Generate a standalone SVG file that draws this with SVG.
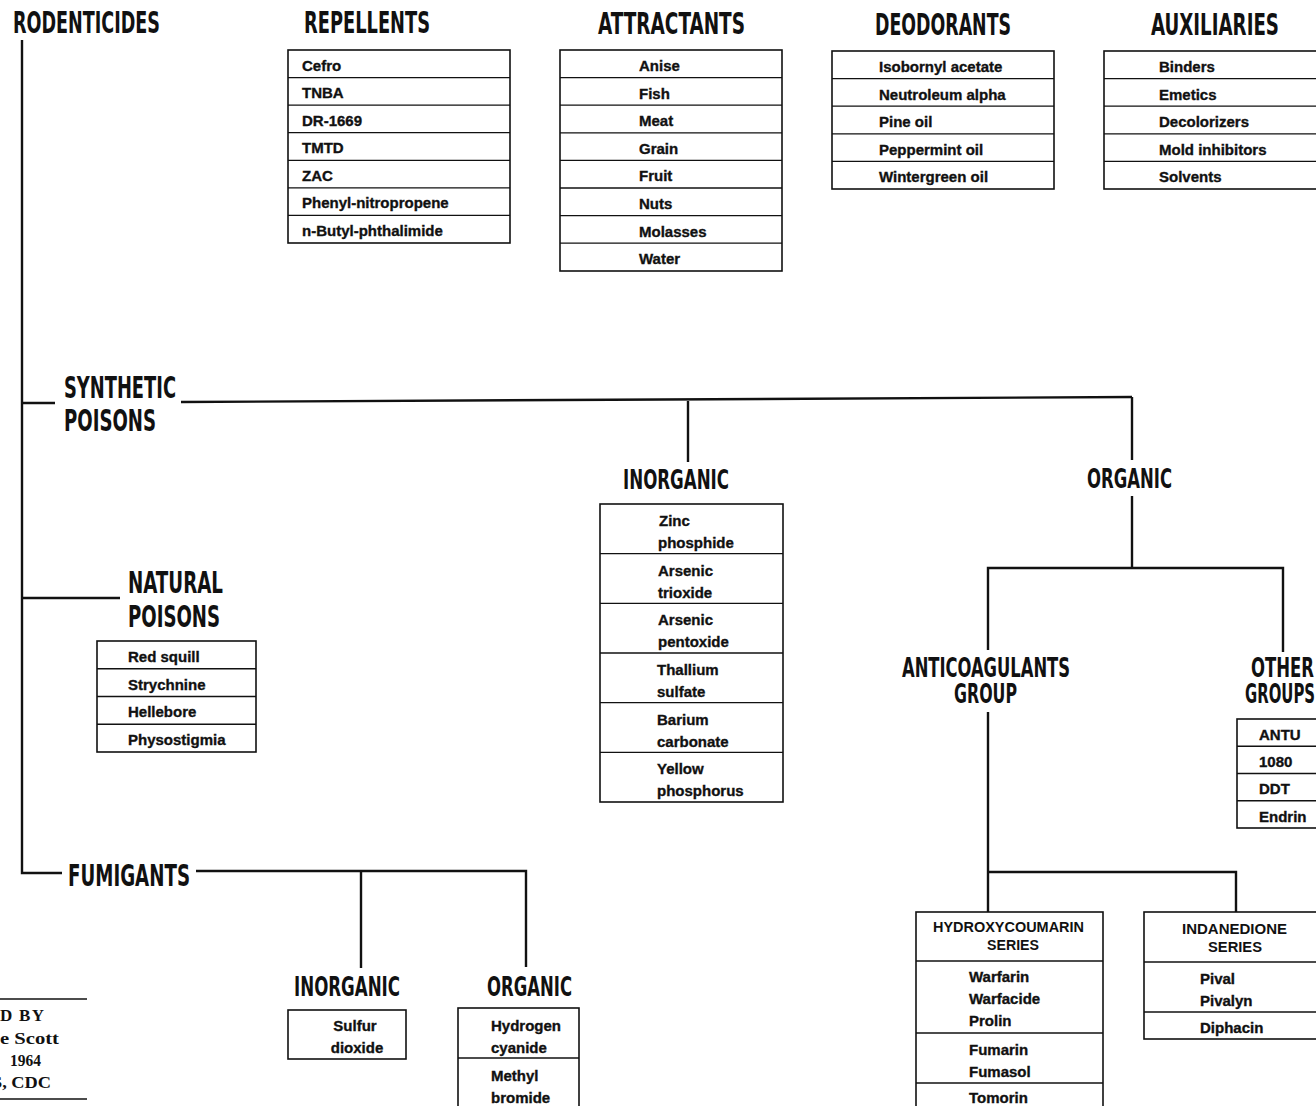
<svg xmlns="http://www.w3.org/2000/svg" width="1316" height="1106" viewBox="0 0 1316 1106">
<style>
.h{font-family:"Liberation Sans Narrow","DejaVu Sans Condensed","Liberation Sans",sans-serif;font-weight:bold;fill:#111}
.h1{font-size:30px}
.h2{font-size:26px}
.hs{font-family:"Liberation Sans",Arial,sans-serif;font-weight:bold;font-size:14px;fill:#111}
.t{font-family:"Liberation Sans",Arial,sans-serif;font-weight:bold;font-size:15px;fill:#111;stroke:#111;stroke-width:0.35}
.c{text-anchor:middle}
.cr{font-family:"Liberation Serif","Times New Roman",serif;font-weight:bold;font-size:17px;fill:#111}
.box{fill:none;stroke:#111;stroke-width:1.6}
.dv{stroke:#111;stroke-width:1.3}
.con{fill:none;stroke:#111;stroke-width:2.4}
</style>
<rect width="1316" height="1106" fill="#fff"/>

<g id="connectors" class="con">
  <path d="M22,40 V873 H62"/>
  <path d="M22,403 H55"/>
  <path d="M22,598 H120"/>
  <path d="M181,402 L1132,397"/>
  <path d="M688,401 V462"/>
  <path d="M1132,397 V460"/>
  <path d="M1132,496 V568"/>
  <path d="M988,650 V568 H1283 V652"/>
  <path d="M988,712 V912"/>
  <path d="M988,872 H1236 V912"/>
  <path d="M196,871 H526 V967"/>
  <path d="M361,871 V968"/>
</g>

<g id="rodenticides">
  <text class="h h1" x="13" y="33" textLength="147" lengthAdjust="spacingAndGlyphs">RODENTICIDES</text>
</g>

<g id="repellents">
  <text class="h h1" x="304" y="33" textLength="126" lengthAdjust="spacingAndGlyphs">REPELLENTS</text>
  <rect class="box" x="288" y="50" width="222" height="193"/>
  <g class="dv">
    <line x1="288" x2="510" y1="77.6" y2="77.6"/>
    <line x1="288" x2="510" y1="105.1" y2="105.1"/>
    <line x1="288" x2="510" y1="132.7" y2="132.7"/>
    <line x1="288" x2="510" y1="160.3" y2="160.3"/>
    <line x1="288" x2="510" y1="187.9" y2="187.9"/>
    <line x1="288" x2="510" y1="215.4" y2="215.4"/>
  </g>
  <text class="t" x="302" y="70.5">Cefro</text>
  <text class="t" x="302" y="98">TNBA</text>
  <text class="t" x="302" y="125.7">DR-1669</text>
  <text class="t" x="302" y="153.3">TMTD</text>
  <text class="t" x="302" y="180.9">ZAC</text>
  <text class="t" x="302" y="208.4">Phenyl-nitropropene</text>
  <text class="t" x="302" y="236">n-Butyl-phthalimide</text>
</g>

<g id="attractants">
  <text class="h h1" x="598" y="34" textLength="147" lengthAdjust="spacingAndGlyphs">ATTRACTANTS</text>
  <rect class="box" x="560" y="50" width="222" height="221"/>
  <g class="dv">
    <line x1="560" x2="782" y1="77.6" y2="77.6"/>
    <line x1="560" x2="782" y1="105.2" y2="105.2"/>
    <line x1="560" x2="782" y1="132.8" y2="132.8"/>
    <line x1="560" x2="782" y1="160.4" y2="160.4"/>
    <line x1="560" x2="782" y1="188" y2="188"/>
    <line x1="560" x2="782" y1="215.6" y2="215.6"/>
    <line x1="560" x2="782" y1="243.2" y2="243.2"/>
  </g>
  <text class="t" x="639" y="71">Anise</text>
  <text class="t" x="639" y="98.6">Fish</text>
  <text class="t" x="639" y="126.2">Meat</text>
  <text class="t" x="639" y="153.8">Grain</text>
  <text class="t" x="639" y="181.4">Fruit</text>
  <text class="t" x="639" y="209">Nuts</text>
  <text class="t" x="639" y="236.6">Molasses</text>
  <text class="t" x="639" y="264.2">Water</text>
</g>

<g id="deodorants">
  <text class="h h1" x="875" y="35" textLength="136" lengthAdjust="spacingAndGlyphs">DEODORANTS</text>
  <rect class="box" x="832" y="51" width="222" height="138"/>
  <g class="dv">
    <line x1="832" x2="1054" y1="78.6" y2="78.6"/>
    <line x1="832" x2="1054" y1="106.2" y2="106.2"/>
    <line x1="832" x2="1054" y1="133.8" y2="133.8"/>
    <line x1="832" x2="1054" y1="161.4" y2="161.4"/>
  </g>
  <text class="t" x="879" y="72">Isobornyl acetate</text>
  <text class="t" x="879" y="99.6">Neutroleum alpha</text>
  <text class="t" x="879" y="127.2">Pine oil</text>
  <text class="t" x="879" y="154.8">Peppermint oil</text>
  <text class="t" x="879" y="182.4">Wintergreen oil</text>
</g>

<g id="auxiliaries">
  <text class="h h1" x="1151" y="35" textLength="128" lengthAdjust="spacingAndGlyphs">AUXILIARIES</text>
  <rect class="box" x="1104" y="51" width="240" height="138"/>
  <g class="dv">
    <line x1="1104" x2="1344" y1="78.6" y2="78.6"/>
    <line x1="1104" x2="1344" y1="106.2" y2="106.2"/>
    <line x1="1104" x2="1344" y1="133.8" y2="133.8"/>
    <line x1="1104" x2="1344" y1="161.4" y2="161.4"/>
  </g>
  <text class="t" x="1159" y="72">Binders</text>
  <text class="t" x="1159" y="99.6">Emetics</text>
  <text class="t" x="1159" y="127.2">Decolorizers</text>
  <text class="t" x="1159" y="154.8">Mold inhibitors</text>
  <text class="t" x="1159" y="182.4">Solvents</text>
</g>

<g id="synthetic-poisons">
  <text class="h h1" x="64" y="398" textLength="112" lengthAdjust="spacingAndGlyphs">SYNTHETIC</text>
  <text class="h h1" x="64" y="431" textLength="92" lengthAdjust="spacingAndGlyphs">POISONS</text>
</g>

<g id="natural-poisons">
  <text class="h h1" x="128" y="593" textLength="95" lengthAdjust="spacingAndGlyphs">NATURAL</text>
  <text class="h h1" x="128" y="627" textLength="92" lengthAdjust="spacingAndGlyphs">POISONS</text>
  <rect class="box" x="97" y="641" width="159" height="111"/>
  <g class="dv">
    <line x1="97" x2="256" y1="668.75" y2="668.75"/>
    <line x1="97" x2="256" y1="696.5" y2="696.5"/>
    <line x1="97" x2="256" y1="724.25" y2="724.25"/>
  </g>
  <text class="t" x="128" y="662">Red squill</text>
  <text class="t" x="128" y="689.5">Strychnine</text>
  <text class="t" x="128" y="717">Hellebore</text>
  <text class="t" x="128" y="745">Physostigmia</text>
</g>

<g id="synthetic-inorganic">
  <text class="h h2" x="623" y="489" textLength="106" lengthAdjust="spacingAndGlyphs">INORGANIC</text>
  <rect class="box" x="600" y="504" width="183" height="298"/>
  <g class="dv">
    <line x1="600" x2="783" y1="553.7" y2="553.7"/>
    <line x1="600" x2="783" y1="603.3" y2="603.3"/>
    <line x1="600" x2="783" y1="653" y2="653"/>
    <line x1="600" x2="783" y1="702.7" y2="702.7"/>
    <line x1="600" x2="783" y1="752.3" y2="752.3"/>
  </g>
  <text class="t" x="659" y="526">Zinc</text>
  <text class="t" x="658" y="548">phosphide</text>
  <text class="t" x="658" y="575.7">Arsenic</text>
  <text class="t" x="658" y="597.7">trioxide</text>
  <text class="t" x="658" y="625.3">Arsenic</text>
  <text class="t" x="658" y="647.3">pentoxide</text>
  <text class="t" x="657" y="675">Thallium</text>
  <text class="t" x="657" y="697">sulfate</text>
  <text class="t" x="657" y="724.7">Barium</text>
  <text class="t" x="657" y="746.7">carbonate</text>
  <text class="t" x="657" y="774.3">Yellow</text>
  <text class="t" x="657" y="796.3">phosphorus</text>
</g>

<g id="synthetic-organic">
  <text class="h h2" x="1087" y="488" textLength="85" lengthAdjust="spacingAndGlyphs">ORGANIC</text>
</g>

<g id="anticoagulants-group">
  <text class="h h2" x="902" y="677" textLength="168" lengthAdjust="spacingAndGlyphs">ANTICOAGULANTS</text>
  <text class="h h2" x="954" y="703" textLength="63" lengthAdjust="spacingAndGlyphs">GROUP</text>
</g>

<g id="other-groups">
  <text class="h h2" x="1251" y="677" textLength="63" lengthAdjust="spacingAndGlyphs">OTHER</text>
  <text class="h h2" x="1245" y="703" textLength="70" lengthAdjust="spacingAndGlyphs">GROUPS</text>
  <rect class="box" x="1237" y="719" width="100" height="109"/>
  <g class="dv">
    <line x1="1237" x2="1337" y1="746.25" y2="746.25"/>
    <line x1="1237" x2="1337" y1="773.5" y2="773.5"/>
    <line x1="1237" x2="1337" y1="800.75" y2="800.75"/>
  </g>
  <text class="t" x="1259" y="739.5">ANTU</text>
  <text class="t" x="1259" y="767">1080</text>
  <text class="t" x="1259" y="794">DDT</text>
  <text class="t" x="1259" y="821.5">Endrin</text>
</g>

<g id="hydroxycoumarin-series">
  <rect class="box" x="916" y="912" width="187" height="220"/>
  <g class="dv">
    <line x1="916" x2="1103" y1="961" y2="961"/>
    <line x1="916" x2="1103" y1="1033" y2="1033"/>
    <line x1="916" x2="1103" y1="1083" y2="1083"/>
  </g>
  <text class="hs" x="933" y="932" textLength="151" lengthAdjust="spacingAndGlyphs">HYDROXYCOUMARIN</text>
  <text class="hs" x="987" y="950" textLength="52" lengthAdjust="spacingAndGlyphs">SERIES</text>
  <text class="t" x="969" y="982">Warfarin</text>
  <text class="t" x="969" y="1004">Warfacide</text>
  <text class="t" x="969" y="1026">Prolin</text>
  <text class="t" x="969" y="1055">Fumarin</text>
  <text class="t" x="969" y="1077">Fumasol</text>
  <text class="t" x="969" y="1103">Tomorin</text>
</g>

<g id="indanedione-series">
  <rect class="box" x="1144" y="912" width="200" height="127"/>
  <g class="dv">
    <line x1="1144" x2="1344" y1="962" y2="962"/>
    <line x1="1144" x2="1344" y1="1012" y2="1012"/>
  </g>
  <text class="hs" x="1182" y="934" textLength="105" lengthAdjust="spacingAndGlyphs">INDANEDIONE</text>
  <text class="hs" x="1208" y="952" textLength="54" lengthAdjust="spacingAndGlyphs">SERIES</text>
  <text class="t" x="1200" y="984">Pival</text>
  <text class="t" x="1200" y="1006">Pivalyn</text>
  <text class="t" x="1200" y="1033">Diphacin</text>
</g>

<g id="fumigants">
  <text class="h h1" x="68" y="886" textLength="122" lengthAdjust="spacingAndGlyphs">FUMIGANTS</text>
</g>

<g id="fumigants-inorganic">
  <text class="h h2" x="294" y="996" textLength="106" lengthAdjust="spacingAndGlyphs">INORGANIC</text>
  <rect class="box" x="288" y="1010" width="118" height="49"/>
  <text class="t c" x="355" y="1031">Sulfur</text>
  <text class="t c" x="357" y="1053">dioxide</text>
</g>

<g id="fumigants-organic">
  <text class="h h2" x="487" y="996" textLength="85" lengthAdjust="spacingAndGlyphs">ORGANIC</text>
  <rect class="box" x="458" y="1008" width="121" height="120"/>
  <line class="dv" x1="458" x2="579" y1="1058" y2="1058"/>
  <text class="t" x="491" y="1031">Hydrogen</text>
  <text class="t" x="491" y="1053">cyanide</text>
  <text class="t" x="491" y="1081">Methyl</text>
  <text class="t" x="491" y="1103">bromide</text>
</g>

<g id="credit">
  <line x1="-2" x2="87" y1="999" y2="999" stroke="#111" stroke-width="1.5"/>
  <line x1="-2" x2="87" y1="1099" y2="1099" stroke="#111" stroke-width="1.5"/>
  <text class="cr" x="0" y="1021" textLength="44" lengthAdjust="spacing">D BY</text>
  <text class="cr" x="0" y="1044" textLength="59" lengthAdjust="spacingAndGlyphs">e Scott</text>
  <text class="cr" x="10" y="1066" textLength="31" lengthAdjust="spacingAndGlyphs">1964</text>
  <text class="cr" x="-8" y="1088" textLength="59" lengthAdjust="spacingAndGlyphs">S, CDC</text>
</g>
</svg>
